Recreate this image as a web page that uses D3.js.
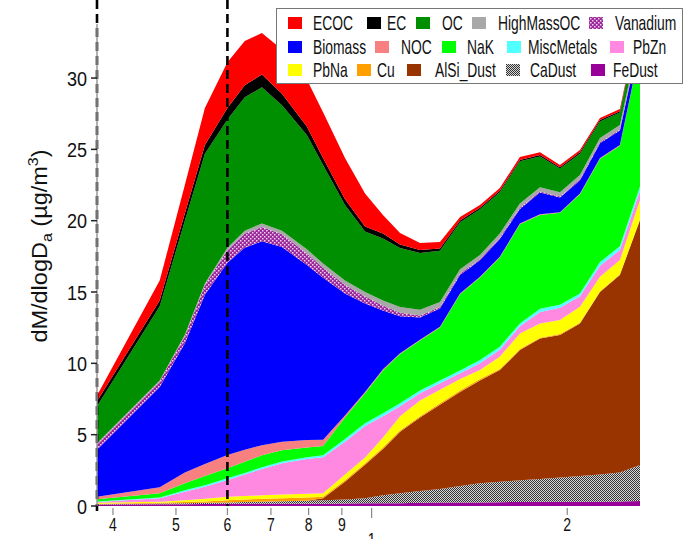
<!DOCTYPE html>
<html><head><meta charset="utf-8">
<script src="https://cdn.jsdelivr.net/npm/d3@7"></script>
<style>body{margin:0;background:#fff} svg{display:block} text{font-family:"Liberation Sans",Arial,sans-serif}</style>
</head><body><svg id="c" width="685" height="539"></svg>
<script>
// ---- data ----
const diameters = [3.78,4.72,5.16,5.54,6.0,6.38,6.78,7.28,7.95,8.42,9.1,9.77,10.41,11.06,11.87,12.74,13.68,14.68,15.75,16.91,18.16,19.49,20.92,22.46,24.1,25.88];
const FeDust     = [0.1,0.12,0.13,0.14,0.15,0.15,0.15,0.15,0.15,0.15,0.18,0.2,0.2,0.2,0.22,0.25,0.25,0.25,0.27,0.28,0.3,0.3,0.3,0.3,0.32,0.35];
const CaDust     = [0.02,0.05,0.07,0.08,0.1,0.13,0.15,0.18,0.22,0.25,0.27,0.35,0.55,0.7,0.83,0.95,1.15,1.35,1.43,1.52,1.6,1.7,1.8,1.9,2.03,2.52];
const AlSi_Dust  = [0,0,0,0,0,0,0,0,0,0.15,1.25,2.35,3.25,4.3,5.15,5.9,6.6,7.2,7.83,9.13,9.85,9.99,10.7,12.8,13.85,17.18];
const Cu         = [0.04,0.05,0.08,0.1,0.15,0.17,0.2,0.22,0.23,0.1,0.1,0.1,0.1,0.1,0.1,0.1,0.1,0.1,0.07,0.07,0.05,0.06,0.05,0.05,0.05,0.05];
const PbNa       = [0.06,0.08,0.12,0.18,0.25,0.25,0.25,0.25,0.25,0.25,0.4,0.4,0.7,1.0,1.1,0.95,0.8,0.63,0.87,1.1,1.0,0.99,1.12,1.02,0.99,1.35];
const PbZn       = [0.06,0.24,0.6,0.85,1.17,1.5,1.85,2.2,2.45,2.51,2.3,2.2,1.5,0.7,0.5,0.45,0.4,0.47,0.48,0.5,0.8,0.86,0.73,0.78,0.71,0.65];
const MiscMetals = [0.04,0.06,0.1,0.1,0.12,0.12,0.12,0.12,0.12,0.14,0.2,0.2,0.2,0.2,0.2,0.2,0.2,0.23,0.22,0.2,0.22,0.2,0.2,0.25,0.25,0.3];
const NaK        = [0.15,0.29,0.5,0.65,0.7,0.78,0.83,0.78,0.68,0.65,1.5,2.1,3.0,3.45,3.5,3.72,5.35,5.79,6.25,6.95,6.58,6.45,6.95,7.25,7.05,9.55];
const NOC        = [0.18,0.42,0.75,0.85,0.93,0.85,0.7,0.6,0.52,0.45,0.15,0.1,0.08,0.05,0.05,0.05,0.05,0.05,0.05,0.05,0.05,0.05,0.05,0.05,0.05,0.05];
const Biomass    = [3.3,7.04,9.05,11.85,13.48,14.15,14.3,13.65,12.28,11.35,8.55,6.2,4.12,2.6,1.56,1.28,1.3,1.15,1.25,1.02,1.52,1.02,0.92,1.02,1.02,0.82];
const Vanadium   = [0.4,0.4,0.5,0.7,0.9,1.0,1.0,0.9,0.8,0.7,0.6,0.5,0.35,0.25,0.15,0.1,0.1,0.08,0.08,0.08,0.08,0.08,0.08,0.08,0.08,0.08];
const HighMassOC = [0.05,0.05,0.1,0.1,0.15,0.2,0.25,0.25,0.3,0.3,0.3,0.3,0.35,0.4,0.4,0.35,0.3,0.3,0.3,0.3,0.3,0.3,0.3,0.3,0.3,0.3];
const OC         = [2.6,5.2,8.0,9.1,9.0,9.35,9.55,8.8,8.0,6.9,5.3,4.25,4.35,4.13,3.98,3.6,3.29,3.2,2.89,2.96,2.15,1.65,1.5,1.15,0.88,1.05];
const EC         = [0.35,0.4,0.5,0.6,0.8,0.85,0.9,0.8,0.6,0.5,0.4,0.35,0.35,0.25,0.2,0.15,0.12,0.1,0.1,0.1,0.1,0.1,0.1,0.1,0.1,0.1];
const ECOC       = [0.4,1.4,2.0,2.6,3.2,3.1,2.9,3.1,3.3,3.2,2.9,2.3,1.3,0.8,0.5,0.45,0.25,0.2,0.2,0.2,0.2,0.15,0.15,0.15,0.15,0.15];

const legendNames = ["ECOC","EC","OC","HighMassOC","Vanadium","Biomass","NOC","NaK","MiscMetals","PbZn","PbNa","Cu","AlSi_Dust","CaDust","FeDust"];
const yTicks = [0,5,10,15,20,25,30];
const xTicks = [4,5,6,7,8,9,10,20];
const xTickLabels = ["4","5","6","7","8","9","1","2"];
const markerDiameters = [3.78, 6];

// ---- styles / layout ----
const seriesValues = {FeDust,CaDust,AlSi_Dust,Cu,PbNa,PbZn,MiscMetals,NaK,NOC,Biomass,Vanadium,HighMassOC,OC,EC,ECOC};
const colors = {ECOC:"#ff0000",EC:"#000000",OC:"#008f00",HighMassOC:"#a8a8a8",Vanadium:"url(#vanPat)",
  Biomass:"#0000ff",NOC:"#f88080",NaK:"#00ff00",MiscMetals:"#50ffff",PbZn:"#ff88e0",
  PbNa:"#ffff00",Cu:"#ffa000",AlSi_Dust:"#993300",CaDust:"url(#caPat)",FeDust:"#990099"};
const stackKeys = legendNames.slice().reverse();
const legendPos = [ // [swatchX, textX] per entry, rows of 5
  [288,313],[367,387],[416,442],[472,498],[589,615],
  [288,313],[375,401],[442,467],[507,528],[610,633],
  [288,313],[357,377],[407,435],[506,530],[591,613]];
const rowBase = [30,54,77];
const SX = 0.66;

const svg = d3.select("#c");
const defs = svg.append("defs");
const vp = defs.append("pattern").attr("id","vanPat").attr("patternUnits","userSpaceOnUse").attr("width",4).attr("height",4);
vp.append("rect").attr("width",4).attr("height",4).attr("fill","#9a2a9a");
vp.append("rect").attr("x",0).attr("y",0).attr("width",1.5).attr("height",1.5).attr("fill","#f4d0f4");
vp.append("rect").attr("x",2).attr("y",2).attr("width",1.5).attr("height",1.5).attr("fill","#f4d0f4");
const cp = defs.append("pattern").attr("id","caPat").attr("patternUnits","userSpaceOnUse").attr("width",2).attr("height",2);
cp.append("rect").attr("width",2).attr("height",2).attr("fill","#d8d8d8");
cp.append("rect").attr("x",0).attr("y",0).attr("width",1).attr("height",1).attr("fill","#333");
cp.append("rect").attr("x",1).attr("y",1).attr("width",1).attr("height",1).attr("fill","#333");
defs.append("clipPath").attr("id","plotClip").append("rect").attr("x",97).attr("y",0).attr("width",543).attr("height",506);

const x = d3.scaleLog().domain([3.78, 25.88]).range([97, 640]);
const y = d3.scaleLinear().domain([0, 35.47]).range([506, 0]);

const rows = diameters.map((d,i)=>{ const r={d}; stackKeys.forEach(k=>r[k]=seriesValues[k][i]); return r; });
const stacked = d3.stack().keys(stackKeys)(rows);
const area = d3.area().x(d=>x(d.data.d)).y0(d=>y(d[0])).y1(d=>y(d[1]));

svg.append("g").attr("clip-path","url(#plotClip)")
  .selectAll("path").data(stacked).join("path")
  .attr("d",area).attr("fill",s=>colors[s.key]);

// dashed markers
svg.append("g").selectAll("line").data(markerDiameters).join("line")
  .attr("x1",d=>x(d)).attr("x2",d=>x(d)).attr("y1",0).attr("y2",(d,i)=>i===0?511:506)
  .attr("stroke","#000").attr("stroke-width",2.6).attr("stroke-dasharray","9,5");

// y axis
const ya = svg.append("g");
ya.append("line").attr("x1",97).attr("x2",97).attr("y1",24).attr("y2",y(0)).attr("stroke","#999").attr("stroke-width",1.5);
ya.selectAll("line.t").data(yTicks).join("line").attr("class","t")
  .attr("x1",91).attr("x2",97).attr("y1",d=>y(d)).attr("y2",d=>y(d)).attr("stroke","#222").attr("stroke-width",1.5);
ya.selectAll("text").data(yTicks).join("text")
  .attr("transform",d=>`translate(87,${y(d)+7.5}) scale(0.86,1)`)
  .attr("text-anchor","end").attr("font-size",21).attr("fill","#111").text(d=>d);

// x axis ticks
const xa = svg.append("g");
xa.selectAll("line").data(xTicks).join("line")
  .attr("x1",d=>x(d)).attr("x2",d=>x(d)).attr("y1",508).attr("y2",d=>d===10?518:515)
  .attr("stroke","#888").attr("stroke-width",1.2);
xa.selectAll("text").data(xTicks).join("text")
  .attr("transform",(d,i)=>`translate(${x(d)},${d===10?546:531}) scale(0.78,1)`)
  .attr("text-anchor","middle").attr("font-size",18).attr("fill","#111").text((d,i)=>xTickLabels[i]);

// y title
const yt = svg.append("text").attr("transform","translate(47,246) scale(0.92,1) rotate(-90)")
  .attr("text-anchor","middle").attr("font-size",23.5).attr("fill","#111");
yt.append("tspan").text("dM/dlogD");
yt.append("tspan").attr("font-size",16).attr("dy",5).text("a");
yt.append("tspan").attr("dy",-5).text(" (\u00b5g/m");
yt.append("tspan").attr("font-size",16).attr("dy",-10).text("3");
yt.append("tspan").attr("dy",10).text(")");

// legend
const lg = svg.append("g");
lg.append("rect").attr("x",276.5).attr("y",8.5).attr("width",406).attr("height",75).attr("fill","#fff").attr("stroke","#777").attr("stroke-width",1);
legendNames.forEach((n,i)=>{
  const r = Math.floor(i/5), p = legendPos[i];
  lg.append("rect").attr("x",p[0]).attr("y",rowBase[r]-13).attr("width",14).attr("height",12).attr("fill",colors[n]);
  lg.append("text").attr("transform",`translate(${p[1]},${rowBase[r]}) scale(${SX},1)`)
    .attr("font-size",21).attr("fill","#111").text(n);
});
</script></body></html>
